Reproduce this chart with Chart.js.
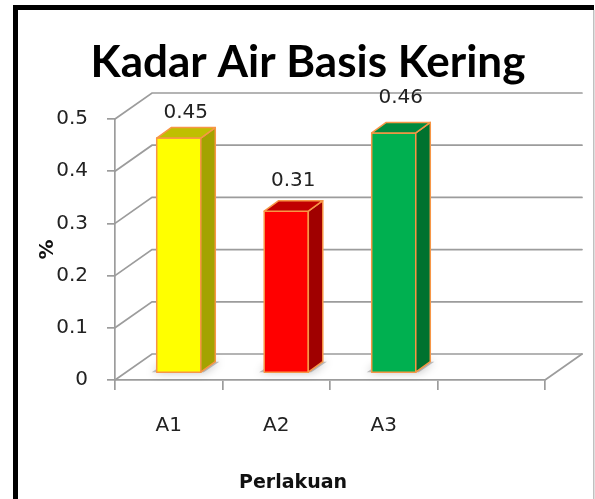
<!DOCTYPE html>
<html>
<head>
<meta charset="utf-8">
<script src="https://cdn.jsdelivr.net/npm/chart.js@4/dist/chart.umd.min.js"></script>
<style>
  html, body { margin: 0; padding: 0; background: #fff; }
  #wrap { width: 595px; height: 499px; }
</style>
</head>
<body>
<div id="wrap"><canvas id="c" width="595" height="499"></canvas></div>
<script>
// ---- data ----
const categories = ['A1', 'A2', 'A3', ''];
const values = [0.45, 0.31, 0.46, null];
const yTicks = [0, 0.1, 0.2, 0.3, 0.4, 0.5];
const chartTitle = 'Kadar Air Basis Kering';
const xTitle = 'Perlakuan';
const yTitle = '%';

// ---- styling ----
const TITLE_FONT = 'Lato, "Open Sans", sans-serif';
const FONT = '"DejaVu Sans", sans-serif';
const frontColors = ['#FFFF00', '#FF0000', '#00B050'];
const topColors = ['#BFBF00', '#C00000', '#008A3E'];
const sideColors = ['#A3A300', '#A00000', '#00722F'];
const edgeColor = '#F79646';
const gridColor = '#9C9C9C';
const DX = 37, DY = -26;            // full floor depth
const FX = 10, FY = -7;             // bar front offset into depth
const BX = 14.5, BY = -10.5;        // bar depth

const walls = {
  id: 'walls',
  beforeDraw(chart) {
    const ctx = chart.ctx;
    ctx.save();
    ctx.fillStyle = '#fff';
    ctx.fillRect(0, 0, chart.width, chart.height);
    // outer frame
    ctx.fillStyle = '#000';
    ctx.fillRect(13, 5, 5, chart.height - 5);
    ctx.fillRect(13, 5, 581, 5);
    ctx.fillStyle = '#C0C0C0';
    ctx.fillRect(593, 10, 1.5, chart.height - 10);
    // title
    ctx.fillStyle = '#000';
    ctx.font = 'bold 44px ' + TITLE_FONT;
    ctx.textAlign = 'center';
    ctx.textBaseline = 'alphabetic';
    ctx.fillText(chartTitle, 308, 77);
    // x axis title
    ctx.fillStyle = '#111';
    ctx.font = 'bold 19px ' + FONT;
    ctx.textBaseline = 'middle';
    ctx.fillText(xTitle, 293, 483);
    ctx.restore();
  },
  beforeDatasetsDraw(chart) {
    const ctx = chart.ctx;
    const ys = chart.scales.y, xs = chart.scales.x;
    const L = xs.left, R = xs.right;
    ctx.save();
    ctx.strokeStyle = gridColor;
    ctx.lineWidth = 1.7;
    ctx.lineCap = 'round';
    yTicks.forEach(v => {
      const y = ys.getPixelForValue(v);
      ctx.beginPath();
      ctx.moveTo(L, y);
      ctx.lineTo(L + DX, y + DY);
      ctx.lineTo(R + DX, y + DY);
      ctx.stroke();
    });
    const y0 = ys.getPixelForValue(0);
    ctx.beginPath();
    ctx.moveTo(R, y0);
    ctx.lineTo(R + DX, y0 + DY);
    ctx.stroke();
    ctx.restore();
  },
  afterDatasetsDraw(chart) {
    const ctx = chart.ctx;
    const meta = chart.getDatasetMeta(0);
    ctx.save();
    // floor shadows
    meta.data.forEach((bar, i) => {
      if (values[i] == null) return;
      const p = bar.getProps(['x', 'y', 'base', 'width'], true);
      const xL = p.x - p.width / 2 + FX, xR = p.x + p.width / 2 + FX, yB = p.base + FY;
      ctx.save();
      ctx.shadowColor = 'rgba(0,0,0,0.5)';
      ctx.shadowBlur = 10;
      ctx.fillStyle = 'rgba(140,140,140,0.55)';
      ctx.beginPath();
      ctx.moveTo(xL - 5, yB);
      ctx.lineTo(xR + 3, yB);
      ctx.lineTo(xR + BX + 4, yB + BY);
      ctx.lineTo(xL + BX - 4, yB + BY);
      ctx.closePath();
      ctx.fill();
      ctx.restore();
    });
    // boxes
    ctx.lineWidth = 1.5;
    ctx.lineJoin = 'round';
    ctx.strokeStyle = edgeColor;
    meta.data.forEach((bar, i) => {
      if (values[i] == null) return;
      const p = bar.getProps(['x', 'y', 'base', 'width'], true);
      const xL = p.x - p.width / 2 + FX, xR = p.x + p.width / 2 + FX;
      const yT = p.y + FY, yB = p.base + FY;
      // front
      ctx.fillStyle = frontColors[i];
      ctx.beginPath();
      ctx.rect(xL, yT, xR - xL, yB - yT);
      ctx.fill(); ctx.stroke();
      // side
      ctx.fillStyle = sideColors[i];
      ctx.beginPath();
      ctx.moveTo(xR, yT);
      ctx.lineTo(xR + BX, yT + BY);
      ctx.lineTo(xR + BX, yB + BY);
      ctx.lineTo(xR, yB);
      ctx.closePath();
      ctx.fill(); ctx.stroke();
      // top
      ctx.fillStyle = topColors[i];
      ctx.beginPath();
      ctx.moveTo(xL, yT);
      ctx.lineTo(xL + BX, yT + BY);
      ctx.lineTo(xR + BX, yT + BY);
      ctx.lineTo(xR, yT);
      ctx.closePath();
      ctx.fill(); ctx.stroke();
      // value label
      ctx.fillStyle = '#222';
      ctx.font = '20px ' + FONT;
      ctx.textAlign = 'center';
      ctx.textBaseline = 'middle';
      ctx.fillText(String(values[i]), (xL + xR) / 2 + 7, yT + BY - 15 - 5 * i);
    });
    ctx.restore();
  }
};

new Chart(document.getElementById('c'), {
  type: 'bar',
  data: {
    labels: categories,
    datasets: [{
      data: values,
      backgroundColor: 'rgba(0,0,0,0)',
      borderWidth: 0,
      categoryPercentage: 1,
      barPercentage: 0.41
    }]
  },
  options: {
    responsive: false,
    animation: false,
    events: [],
    layout: { padding: { left: 0, right: 50, top: 119, bottom: 0 } },
    plugins: {
      legend: { display: false },
      tooltip: { enabled: false },
      title: { display: false }
    },
    scales: {
      x: {
        afterFit(s) { s.height = 119; },
        grid: { drawOnChartArea: false, drawTicks: true, tickLength: 10, color: gridColor, lineWidth: 1.7, offset: true },
        border: { display: true, color: gridColor, width: 1.7 },
        ticks: { color: '#222', font: { family: FONT, size: 20 }, padding: 24 },
        title: { display: false }
      },
      y: {
        min: 0, max: 0.5,
        afterFit(s) { s.width = 115; },
        afterBuildTicks(s) { s.ticks = yTicks.map(v => ({ value: v })); },
        grid: { drawOnChartArea: false, drawTicks: true, tickLength: 8, color: gridColor, lineWidth: 1.7 },
        border: { display: true, color: gridColor, width: 1.7 },
        ticks: { color: '#222', font: { family: FONT, size: 20 }, padding: 19 },
        title: { display: true, text: yTitle, color: '#111', font: { family: FONT, size: 20, weight: 'bold', lineHeight: 1.2 }, padding: { top: 36, bottom: 0 } }
      }
    }
  },
  plugins: [walls]
});
</script>
</body>
</html>
